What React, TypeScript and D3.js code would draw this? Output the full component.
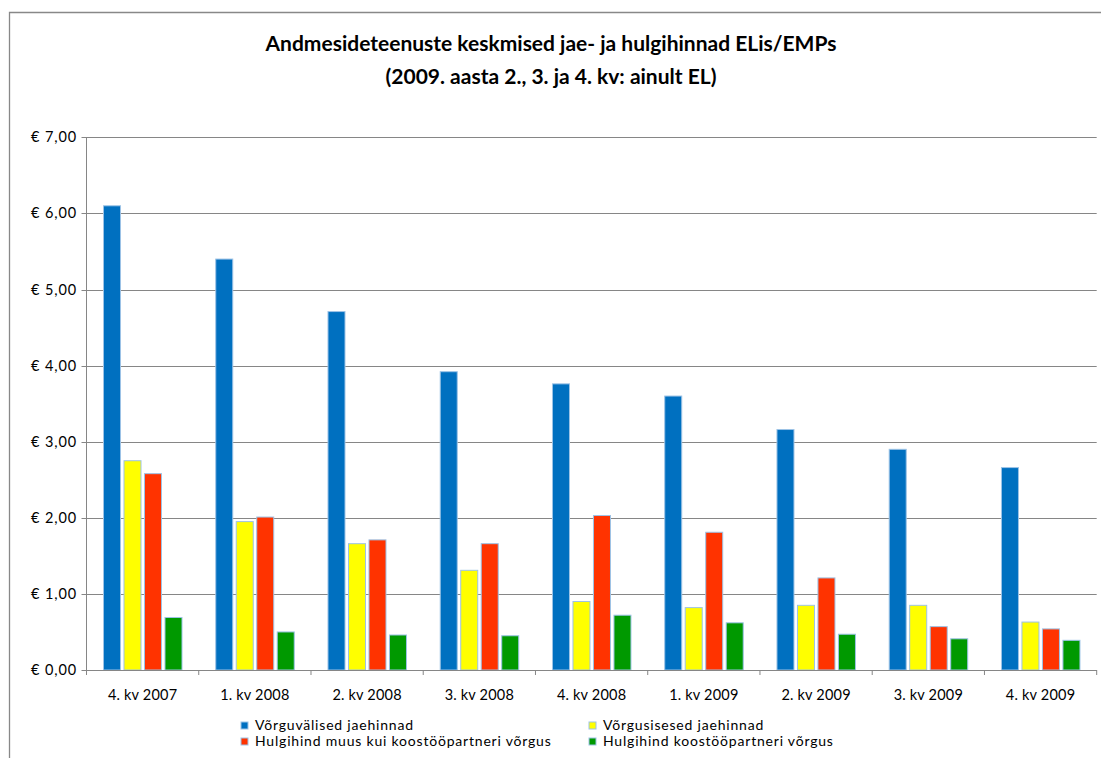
import * as d3 from "d3";

const categories = [
  "4. kv 2007",
  "1. kv 2008",
  "2. kv 2008",
  "3. kv 2008",
  "4. kv 2008",
  "1. kv 2009",
  "2. kv 2009",
  "3. kv 2009",
  "4. kv 2009",
];

const seriesNames = [
  "Võrguvälised jaehinnad",
  "Võrgusisesed jaehinnad",
  "Hulgihind muus kui koostööpartneri võrgus",
  "Hulgihind koostööpartneri võrgus",
];

const offNetRetail = [6.1, 5.4, 4.71, 3.92, 3.76, 3.6, 3.16, 2.9, 2.66];
const onNetRetail = [2.75, 1.95, 1.66, 1.31, 0.9, 0.82, 0.85, 0.85, 0.63];
const wholesaleOther = [2.58, 2.01, 1.71, 1.66, 2.03, 1.81, 1.21, 0.57, 0.54];
const wholesalePartner = [0.69, 0.5, 0.46, 0.45, 0.72, 0.62, 0.47, 0.41, 0.39];

const yTicks = [0, 1, 2, 3, 4, 5, 6, 7];

const colors = ["#0070C0", "#FFFF00", "#FF3300", "#009900"];

const W = 1101;
const H = 758;
const plot = { left: 86.5, right: 1096.7, top: 137.3, bottom: 670 };
const font = "Lato, 'Open Sans', sans-serif";

const App = () => {
  const series = [offNetRetail, onNetRetail, wholesaleOther, wholesalePartner];

  const x0 = d3
    .scaleBand<string>()
    .domain(categories)
    .range([plot.left, plot.right])
    .paddingInner(0)
    .paddingOuter(0);

  const x1 = d3
    .scaleBand<number>()
    .domain(d3.range(series.length))
    .range([17, 95.5])
    .paddingInner(0.17)
    .paddingOuter(0);

  const y = d3.scaleLinear().domain([0, 7]).range([plot.bottom, plot.top]);

  const fmt = (v: number) => "€ " + d3.format(".2f")(v).replace(".", ",");

  const boundaries = categories.map((c) => x0(c)!).concat([plot.right]);

  // legend grid: two columns, two rows
  const legendItems = [
    { i: 0, x: 244.5, y: 726 },
    { i: 1, x: 592.5, y: 726 },
    { i: 2, x: 244.5, y: 742 },
    { i: 3, x: 592.5, y: 742 },
  ];

  return (
    <svg
      width={W}
      height={H}
      style={{ position: "absolute", left: 0, top: 0, background: "#fff" }}
      fontFamily={font}
    >
      <rect x={0} y={0} width={W} height={H} fill="#fff" />
      {/* chart frame */}
      <path d={`M9.5,${H} V12.5 H${W}`} fill="none" stroke="#888" strokeWidth={1.3} />

      <text x={551} y={51} textAnchor="middle" fontSize={21} fontWeight="bold" fill="#000">
        Andmesideteenuste keskmised jae- ja hulgihinnad ELis/EMPs
      </text>
      <text x={551} y={84} textAnchor="middle" fontSize={21} fontWeight="bold" fill="#000">
        (2009. aasta 2., 3. ja 4. kv: ainult EL)
      </text>

      {/* gridlines and y labels */}
      {yTicks.map((t) => (
        <g key={t}>
          <line
            x1={plot.left - 5}
            x2={plot.right}
            y1={Math.round(y(t)) + 0.5}
            y2={Math.round(y(t)) + 0.5}
            stroke="#868686"
            strokeWidth={1}
          />
          <text
            x={77}
            y={y(t)}
            dy="0.35em"
            textAnchor="end"
            fontSize={14.5}
            letterSpacing={0.9}
            fill="#000"
          >
            {fmt(t)}
          </text>
        </g>
      ))}

      {/* y axis */}
      <line
        x1={plot.left}
        x2={plot.left}
        y1={plot.top}
        y2={plot.bottom}
        stroke="#868686"
      />

      {/* bars */}
      {categories.map((c, ci) => (
        <g key={c} transform={`translate(${x0(c)},0)`}>
          {series.map((s, si) => (
            <rect
              key={si}
              x={x1(si)!}
              y={y(s[ci])}
              width={x1.bandwidth()}
              height={y(0) - y(s[ci])}
              fill={colors[si]}
              stroke="#9DC3E6"
              strokeWidth={1}
            />
          ))}
        </g>
      ))}

      {/* x axis */}
      <line
        x1={plot.left}
        x2={plot.right}
        y1={plot.bottom + 0.5}
        y2={plot.bottom + 0.5}
        stroke="#868686"
      />
      {boundaries.map((b, i) => (
        <line
          key={i}
          x1={b}
          x2={b}
          y1={plot.bottom}
          y2={plot.bottom + 5}
          stroke="#868686"
        />
      ))}
      {categories.map((c) => (
        <text
          key={c}
          x={x0(c)! + x0.bandwidth() / 2}
          y={700}
          textAnchor="middle"
          fontSize={14.5}
          letterSpacing={0.2}
          fill="#000"
        >
          {c}
        </text>
      ))}

      {/* legend */}
      {legendItems.map((l) => (
        <g key={l.i}>
          <rect
            x={l.x - 3.5}
            y={l.y - 4}
            width={7}
            height={7}
            fill={colors[l.i]}
            stroke="#9DC3E6"
            strokeWidth={1}
          />
          <text
            x={l.x + 10.5}
            y={l.y}
            dy="0.32em"
            fontSize={14}
            letterSpacing={0.8}
            fill="#000"
          >
            {seriesNames[l.i]}
          </text>
        </g>
      ))}
    </svg>
  );
};

export default App;
